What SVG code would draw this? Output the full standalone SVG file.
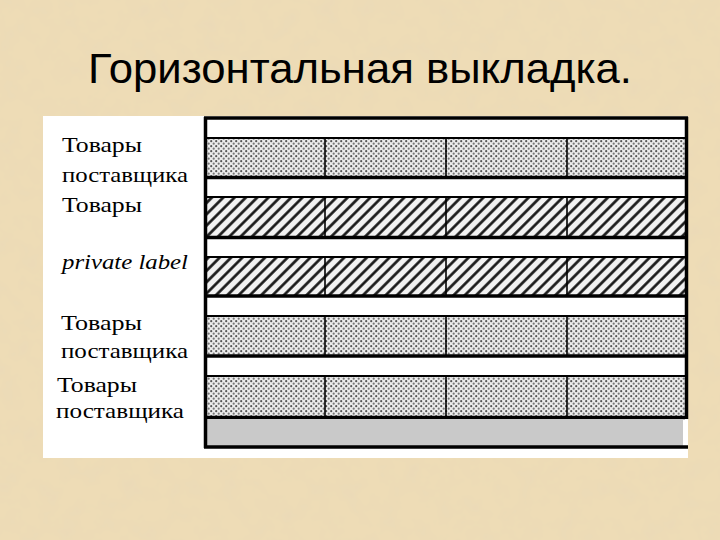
<svg xmlns="http://www.w3.org/2000/svg" width="720" height="540" viewBox="0 0 720 540">
<defs>
<style>
.title{font-family:"Liberation Sans",Arial,sans-serif;font-size:43px;fill:#000}
.lbl{font-family:"Liberation Serif","Times New Roman",serif;font-size:21px;fill:#000}
.it{font-style:italic}
.thin{stroke:#000;stroke-width:2}
.thick{stroke:#000;stroke-width:3.5}
.div{stroke:#000;stroke-width:1.6}
.dots{fill:url(#dots)}
.hatch{fill:url(#hatch)}
</style>
<filter id="paper" x="0" y="0" width="100%" height="100%">
<feTurbulence type="fractalNoise" baseFrequency="0.05" numOctaves="3" seed="7"/>
<feColorMatrix type="matrix" values="0 0 0 0 0.80  0 0 0 0 0.68  0 0 0 0 0.48  0.8 0 0 0 -0.3"/>
</filter>
<pattern id="dots" width="5" height="5" patternUnits="userSpaceOnUse">
<rect width="5" height="5" fill="#ececec"/>
<circle cx="1.2" cy="1.2" r="1.1" fill="#555"/>
<circle cx="3.7" cy="3.7" r="1.1" fill="#777"/>
</pattern>
<pattern id="hatch" width="8" height="8" patternUnits="userSpaceOnUse" patternTransform="rotate(45)">
<rect width="8" height="8" fill="#f2f2f2"/>
<line x1="1.5" y1="0" x2="1.5" y2="8" stroke="#111" stroke-width="2.6"/>
</pattern>
</defs>
<rect width="720" height="540" fill="#EEDCB6"/>
<rect width="720" height="540" filter="url(#paper)"/>
<text class="title" x="88" y="83" textLength="544" lengthAdjust="spacingAndGlyphs">Горизонтальная выкладка.</text>
<rect x="43" y="116" width="645" height="342" fill="#fff"/>
<g id="labels">
<text class="lbl" x="62" y="152" textLength="80" lengthAdjust="spacingAndGlyphs">Товары</text>
<text class="lbl" x="62" y="182" textLength="126" lengthAdjust="spacingAndGlyphs">поставщика</text>
<text class="lbl" x="62" y="212" textLength="80" lengthAdjust="spacingAndGlyphs">Товары</text>
<text class="lbl it" x="62" y="269" textLength="126" lengthAdjust="spacingAndGlyphs">private label</text>
<text class="lbl" x="61" y="330" textLength="81" lengthAdjust="spacingAndGlyphs">Товары</text>
<text class="lbl" x="61" y="358" textLength="127" lengthAdjust="spacingAndGlyphs">поставщика</text>
<text class="lbl" x="57" y="392" textLength="80" lengthAdjust="spacingAndGlyphs">Товары</text>
<text class="lbl" x="56" y="418" textLength="128" lengthAdjust="spacingAndGlyphs">поставщика</text>
</g>
<g id="shelf">
<g id="row1">
<rect class="dots" x="207" y="138" width="478" height="38"/>
<line class="thin" x1="207" y1="138" x2="685" y2="138"/>
<line class="thick" x1="207" y1="177.5" x2="685" y2="177.5"/>
<line class="div" x1="325" y1="138" x2="325" y2="176"/>
<line class="div" x1="446" y1="138" x2="446" y2="176"/>
<line class="div" x1="567" y1="138" x2="567" y2="176"/>
</g>
<g id="row2">
<rect class="hatch" x="207" y="197" width="478" height="39"/>
<line class="thin" x1="207" y1="197" x2="685" y2="197"/>
<line class="thick" x1="207" y1="237.5" x2="685" y2="237.5"/>
<line class="div" x1="325" y1="197" x2="325" y2="236"/>
<line class="div" x1="446" y1="197" x2="446" y2="236"/>
<line class="div" x1="567" y1="197" x2="567" y2="236"/>
</g>
<g id="row3">
<rect class="hatch" x="207" y="257" width="478" height="38"/>
<line class="thin" x1="207" y1="257" x2="685" y2="257"/>
<line class="thick" x1="207" y1="296" x2="685" y2="296"/>
<line class="div" x1="325" y1="257" x2="325" y2="295"/>
<line class="div" x1="446" y1="257" x2="446" y2="295"/>
<line class="div" x1="567" y1="257" x2="567" y2="295"/>
</g>
<g id="row4">
<rect class="dots" x="207" y="316" width="478" height="39"/>
<line class="thin" x1="207" y1="316" x2="685" y2="316"/>
<line class="thick" x1="207" y1="356" x2="685" y2="356"/>
<line class="div" x1="325" y1="316" x2="325" y2="355"/>
<line class="div" x1="446" y1="316" x2="446" y2="355"/>
<line class="div" x1="567" y1="316" x2="567" y2="355"/>
</g>
<g id="row5">
<rect class="dots" x="207" y="376" width="478" height="41"/>
<line class="thin" x1="207" y1="376" x2="685" y2="376"/>
<line class="thick" x1="207" y1="417.5" x2="685" y2="417.5"/>
<line class="div" x1="325" y1="376" x2="325" y2="417"/>
<line class="div" x1="446" y1="376" x2="446" y2="417"/>
<line class="div" x1="567" y1="376" x2="567" y2="417"/>
</g>
<g id="base">
<rect x="207" y="419" width="476" height="27" fill="#c9c9c9"/>
<line class="thick" x1="204" y1="447" x2="688" y2="447"/>
</g>
<g id="frame">
<line class="thick" x1="204" y1="118" x2="688" y2="118"/>
<line class="thick" x1="205.5" y1="117" x2="205.5" y2="448"/>
<line class="thick" x1="686.5" y1="117" x2="686.5" y2="419"/>
</g>
</g>
</svg>
